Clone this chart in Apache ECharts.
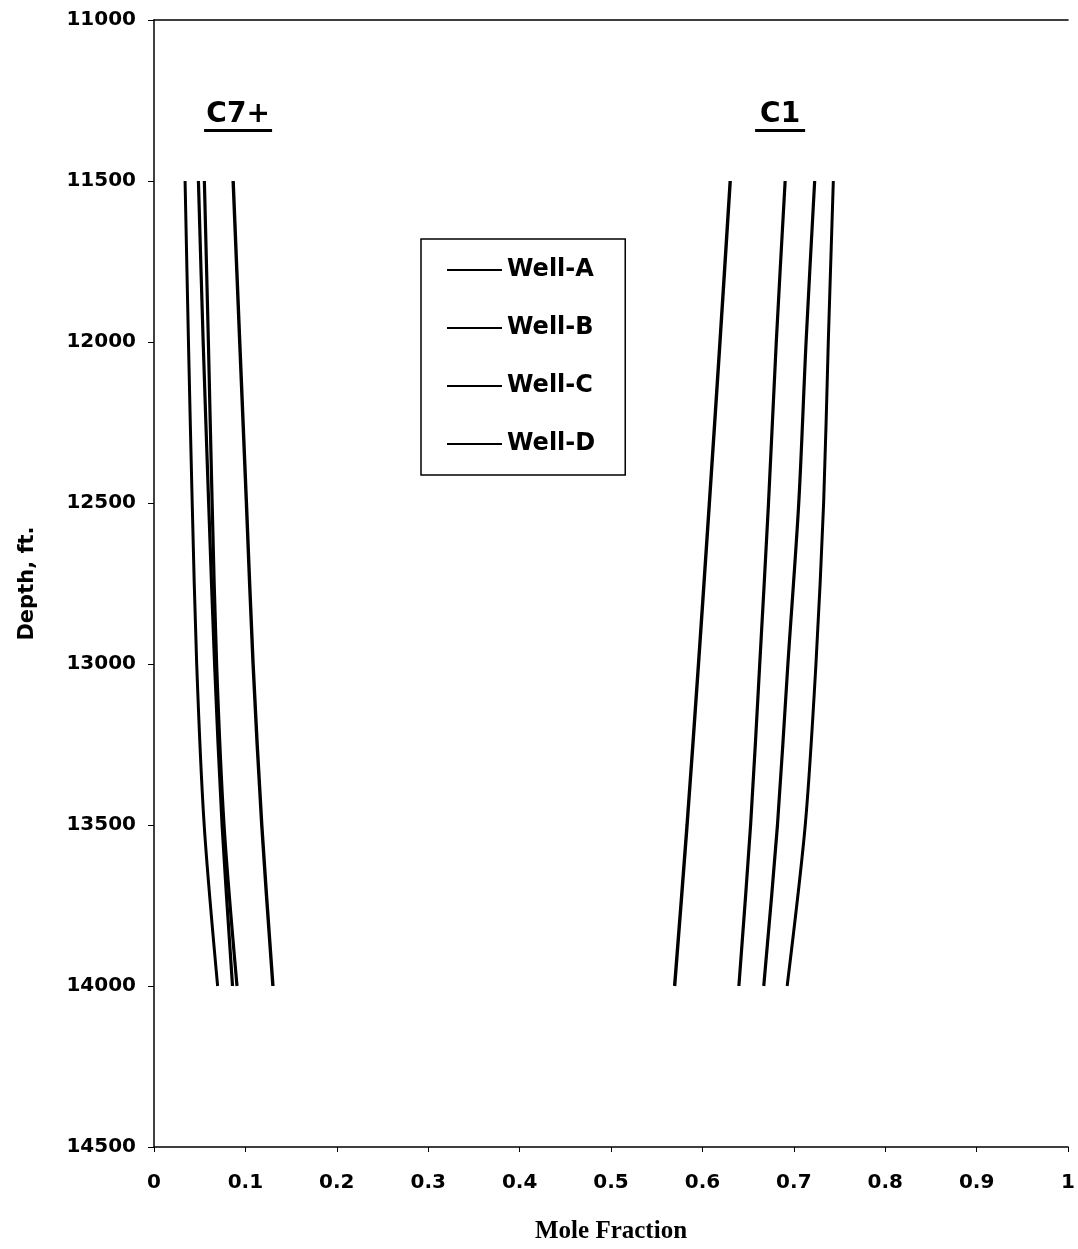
<!DOCTYPE html>
<html>
<head>
<meta charset="utf-8">
<script src="https://cdn.jsdelivr.net/npm/echarts@6/dist/echarts.min.js"></script>
<style>
html,body{margin:0;padding:0;background:#fff;}
#chart{width:1078px;height:1249px;}
</style>
</head>
<body>
<div id="chart"></div>
<script>
// Depths (ft) at which each curve was read
const depths = [11500, 12000, 12500, 13000, 13500, 14000];
const wells = ['Well-A', 'Well-B', 'Well-C', 'Well-D'];
// C7+ mole fraction per well
const c7A = [0.0340, 0.0377, 0.0418, 0.0467, 0.0549, 0.0696];
const c7B = [0.0486, 0.0538, 0.0598, 0.0663, 0.0745, 0.0859];
const c7C = [0.0551, 0.0595, 0.0636, 0.0685, 0.0766, 0.0908];
const c7D = [0.0866, 0.0938, 0.1011, 0.1084, 0.1179, 0.1301];
// C1 mole fraction per well
const c1A = [0.7432, 0.7377, 0.7326, 0.7242, 0.7125, 0.6927];
const c1B = [0.7228, 0.7134, 0.7054, 0.6935, 0.6821, 0.6671];
const c1C = [0.6905, 0.6808, 0.6723, 0.6627, 0.6527, 0.6399];
const c1D = [0.6304, 0.6192, 0.6076, 0.5957, 0.5832, 0.5696];
const xTicks = [0, 0.1, 0.2, 0.3, 0.4, 0.5, 0.6, 0.7, 0.8, 0.9, 1];

const c7 = [c7A, c7B, c7C, c7D];
const c1 = [c1A, c1B, c1C, c1D];
const widths = [3, 3.2, 3.2, 3.4];

const FONT = 'DejaVu Sans';
const series = [];
wells.forEach((w, i) => {
  [c7[i], c1[i]].forEach(arr => {
    series.push({
      name: w,
      type: 'line',
      smooth: 0.3,
      symbol: 'none',
      lineStyle: {color: '#000', width: widths[i]},
      itemStyle: {color: '#000'},
      data: arr.map((v, k) => [v, depths[k]])
    });
  });
});

const chart = echarts.init(document.getElementById('chart'), null, {renderer: 'canvas'});
chart.setOption({
  animation: false,
  backgroundColor: '#fff',
  grid: {left: 154, right: 5, top: 20, bottom: 100},
  legend: {
    data: wells,
    orient: 'vertical',
    left: 421, top: 239,
    padding: [17, 30, 17, 26],
    itemGap: 30,
    itemWidth: 55, itemHeight: 2,
    icon: 'rect',
    borderColor: '#000', borderWidth: 1.5,
    textStyle: {fontFamily: FONT, fontWeight: 'bold', fontSize: 24, lineHeight: 28, color: '#000'}
  },
  xAxis: [{
    type: 'value', min: 0, max: 1, interval: 0.1, position: 'bottom',
    name: 'Mole Fraction', nameLocation: 'middle', nameGap: 72,
    nameTextStyle: {fontFamily: 'Liberation Serif', fontWeight: 'bold', fontSize: 25, color: '#000'},
    axisLine: {show: true, onZero: false, lineStyle: {color: '#000', width: 1.5}},
    axisTick: {show: true, length: 5, lineStyle: {color: '#000'}},
    axisLabel: {margin: 26, fontFamily: FONT, fontWeight: 'bold', fontSize: 20, color: '#000',
      formatter: v => { const t = xTicks.find(x => Math.abs(x - v) < 1e-9); return t === undefined ? '' : String(t); }},
    splitLine: {show: false}
  }, {
    type: 'value', min: 0, max: 1, position: 'top',
    axisLine: {show: true, onZero: false, lineStyle: {color: '#000', width: 1.5}},
    axisTick: {show: false}, axisLabel: {show: false}, splitLine: {show: false}
  }],
  yAxis: {
    type: 'value', min: 11000, max: 14500, interval: 500, inverse: true,
    name: 'Depth, ft.', nameLocation: 'middle', nameGap: 116, nameRotate: 90,
    nameTextStyle: {fontFamily: FONT, fontWeight: 'bold', fontSize: 21, color: '#000'},
    axisLine: {show: true, onZero: false, lineStyle: {color: '#000', width: 1.5}},
    axisTick: {show: true, length: 6, lineStyle: {color: '#000'}},
    axisLabel: {margin: 18, fontFamily: FONT, fontWeight: 'bold', fontSize: 20, color: '#000',
      formatter: v => String(v)},
    splitLine: {show: false}
  },
  series: series
});

function labelGraphic(text, xv, dv, w) {
  const p = chart.convertToPixel({gridIndex: 0}, [xv, dv]);
  return {
    type: 'group', x: p[0], y: p[1], silent: true,
    children: [
      {type: 'text', style: {text: text, x: 0, y: 0, align: 'center', verticalAlign: 'middle',
        font: 'bold 28px "DejaVu Sans"', fill: '#000'}},
      {type: 'rect', shape: {x: -w / 2, y: 14, width: w, height: 3}, style: {fill: '#000'}}
    ]
  };
}
chart.setOption({graphic: [
  labelGraphic('C7+', 0.092, 11295, 68),
  labelGraphic('C1', 0.685, 11295, 50)
]});
</script>
</body>
</html>
